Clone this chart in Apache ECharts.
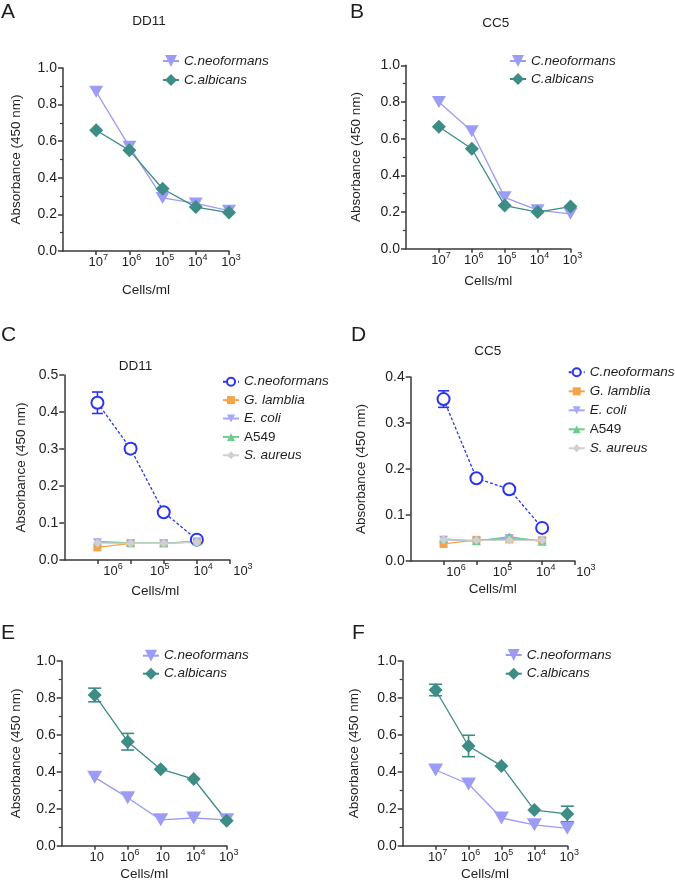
<!DOCTYPE html>
<html><head><meta charset="utf-8">
<script src="https://cdn.jsdelivr.net/npm/echarts@6/dist/echarts.min.js"></script>
<style>html,body{margin:0;padding:0;background:#fff}#c{width:675px;height:886px}</style>
</head><body><div id="c"></div>
<script>
// ---------- data ----------
const cellLabels  = ['10^7', '10^6', '10^5', '10^4', '10^3'];
const cellLabelsCD = ['10^6', '10^5', '10^4', '10^3'];
const cellLabelsE = ['10', '10^6', '10', '10^4', '10^3'];
const steps5 = [1, 2, 3, 4, 5];
const steps4 = [1, 2, 3, 4];

const A_neo = [0.87, 0.57, 0.29, 0.26, 0.22];
const A_alb = [0.66, 0.55, 0.34, 0.24, 0.21];
const B_neo = [0.80, 0.64, 0.28, 0.21, 0.19];
const B_alb = [0.665, 0.545, 0.235, 0.20, 0.23];

const C_neo = [0.425, 0.301, 0.129, 0.055];
const C_neoErr = [0.029, 0.012, 0, 0];
const C_lam = [0.034, 0.045, 0.045, 0.049];
const C_coli = [0.048, 0.045, 0.045, 0.050];
const C_a549 = [0.050, 0.046, 0.045, 0.051];
const C_aur = [0.046, 0.045, 0.045, 0.048];

const D_neo = [0.352, 0.180, 0.156, 0.072];
const D_neoErr = [0.018, 0, 0, 0];
const D_lam = [0.037, 0.046, 0.047, 0.045];
const D_coli = [0.046, 0.044, 0.050, 0.044];
const D_a549 = [0.048, 0.043, 0.053, 0.042];
const D_aur = [0.046, 0.045, 0.045, 0.045];

const E_neo = [0.37, 0.26, 0.14, 0.15, 0.14];
const E_alb = [0.816, 0.563, 0.414, 0.361, 0.135];
const E_albErr = [0.037, 0.045, 0, 0, 0];
const F_neo = [0.41, 0.334, 0.15, 0.113, 0.094];
const F_alb = [0.843, 0.54, 0.432, 0.193, 0.172];
const F_albErr = [0.031, 0.058, 0, 0, 0.042];

// ---------- styling helpers ----------
const FONT = '"Liberation Sans", Arial, Helvetica, sans-serif';
const AX = '#3a3a3a';
const TXT = '#1e1e1e';
const TRI_DOWN = 'path://M0,0L10,0L5,9Z';
const COL_NEO = '#9c9cf6', COL_ALB = '#3d8c85';

function sup(s) {
  const p = s.split('^');
  return p.length > 1 ? '{b|' + p[0] + '}{s|' + p[1] + '}' : '{b|' + p[0] + '}';
}
const richX = {
  b: { fontSize: 13, color: TXT, fontFamily: FONT, lineHeight: 18 },
  s: { fontSize: 9, color: TXT, fontFamily: FONT, lineHeight: 10, verticalAlign: 'top' }
};
function yAxisFor(grid, max, interval, gap, minor) {
  return {
    type: 'value', gridIndex: grid, min: 0, max: max, interval: interval,
    name: 'Absorbance (450 nm)', nameLocation: 'middle', nameGap: gap,
    nameTextStyle: { fontSize: 13.5, color: TXT, fontFamily: FONT },
    axisLine: { show: true, lineStyle: { color: AX, width: 1.5 } },
    axisTick: { show: true, length: 5, lineStyle: { color: AX, width: 1.5 } },
    minorTick: { show: minor, splitNumber: 2, length: 3, lineStyle: { color: AX, width: 1.2 } },
    splitLine: { show: false }, minorSplitLine: { show: false },
    axisLabel: { fontSize: 14, color: TXT, fontFamily: FONT, margin: 6, formatter: v => v.toFixed(1) }
  };
}
function xAxisFor(grid, labels, nameGap, namePad) {
  return {
    type: 'value', gridIndex: grid, min: 0, max: 5,
    name: 'Cells/ml', nameLocation: 'middle', nameGap: nameGap,
    nameTextStyle: { fontSize: 13.5, color: TXT, fontFamily: FONT, padding: namePad || 0 },
    axisLine: { show: true, onZero: false, lineStyle: { color: AX, width: 1.5 } },
    axisTick: { show: true, length: 4, customValues: [1, 2, 3, 4, 5], lineStyle: { color: AX, width: 1.5 } },
    splitLine: { show: false },
    axisLabel: labels ? {
      show: true, customValues: [1, 2, 3, 4, 5], margin: 2.5, padding: [0, 0, 0, 4],
      formatter: v => sup(labels[Math.round(v) - 1] || ''), rich: richX
    } : { show: false }
  };
}
function labelAxisFor(grid, labels, vals) {
  return {
    type: 'value', gridIndex: grid, min: 0, max: 6,
    axisLine: { show: false }, axisTick: { show: false }, splitLine: { show: false },
    axisLabel: {
      show: true, customValues: vals, margin: 2.5,
      formatter: v => {
        let k = 0, d = 1e9;
        vals.forEach((u, i) => { if (Math.abs(u - v) < d) { d = Math.abs(u - v); k = i; } });
        return sup(labels[k]);
      }, rich: richX
    }
  };
}
function hiddenY(grid) {
  return { type: 'value', gridIndex: grid, min: 0, max: 1, show: false };
}
function pts(xs, ys) { return xs.map((x, i) => [x, ys[i]]); }
function lineSeries(name, ax, xs, ys, color, symbol, size, extra) {
  return Object.assign({
    type: 'line', name: name, xAxisIndex: ax, yAxisIndex: ax, data: pts(xs, ys),
    symbol: symbol, symbolSize: size, color: color, z: 3,
    lineStyle: { color: color, width: 1.3 }, itemStyle: { color: color },
    emphasis: { disabled: true }, animation: false
  }, extra || {});
}
function errSeries(name, ax, xs, ys, es, color, capHalf) {
  return {
    type: 'custom', name: name, xAxisIndex: ax, yAxisIndex: ax, z: 2, animation: false,
    data: xs.map((x, i) => [x, ys[i], es[i]]),
    encode: { x: 0, y: 1 },
    renderItem: function (params, api) {
      const x = api.value(0), y = api.value(1), e = api.value(2);
      if (!e) return null;
      const t = api.coord([x, y + e]), b = api.coord([x, y - e]);
      const st = { stroke: color, lineWidth: 1.6 };
      return {
        type: 'group', children: [
          { type: 'line', shape: { x1: t[0], y1: t[1], x2: b[0], y2: b[1] }, style: st },
          { type: 'line', shape: { x1: t[0] - capHalf, y1: t[1], x2: t[0] + capHalf, y2: t[1] }, style: st },
          { type: 'line', shape: { x1: b[0] - capHalf, y1: b[1], x2: b[0] + capHalf, y2: b[1] }, style: st }
        ]
      };
    }
  };
}
function legendFor(names, left, top, iw, ih, gap) {
  return {
    orient: 'vertical', left: left, top: top, itemWidth: iw, itemHeight: ih, itemGap: gap,
    padding: 0, selectedMode: false, data: names,
    formatter: n => {
      const s = n.split('|')[1];
      return s === 'A549' ? '{n|' + s + '}' : '{i|' + s + '}';
    },
    textStyle: {
      fontSize: 13.5, color: TXT, fontFamily: FONT,
      rich: {
        i: { fontSize: 13.5, color: TXT, fontFamily: FONT, fontStyle: 'italic', lineHeight: 16 },
        n: { fontSize: 13.5, color: TXT, fontFamily: FONT, lineHeight: 16 }
      }
    }
  };
}

const grids = [
  { left: 63, top: 68, width: 166, height: 183 },        // A
  { left: 406, top: 65.3, width: 164.5, height: 183.4 }, // B
  { left: 64.3, top: 375, width: 165.7, height: 185 },   // C
  { left: 410.7, top: 377, width: 164.3, height: 184 },  // D
  { left: 61.7, top: 661, width: 165, height: 184.7 },   // E
  { left: 402.7, top: 661, width: 164.6, height: 184.7 },// F
  { left: 64.3, top: 375, width: 198.8, height: 185 },   // C labels
  { left: 410.7, top: 377, width: 197.2, height: 184 }   // D labels
];

const xAxes = [
  xAxisFor(0, cellLabels, 32),
  xAxisFor(1, cellLabels, 25.5),
  xAxisFor(2, null, 24, [0, 0, 0, 16]),
  xAxisFor(3, null, 21.5),
  xAxisFor(4, cellLabelsE, 22),
  xAxisFor(5, cellLabels, 22),
  labelAxisFor(6, cellLabelsCD, [1.47, 2.88, 4.19, 5.39]),
  labelAxisFor(7, cellLabelsCD, [1.38, 2.79, 4.11, 5.33])
];
const yAxes = [
  yAxisFor(0, 1, 0.2, 40, true),
  yAxisFor(1, 1, 0.2, 43, true),
  yAxisFor(2, 0.5, 0.1, 36, false),
  yAxisFor(3, 0.4, 0.1, 42, false),
  yAxisFor(4, 1, 0.2, 38.5, true),
  yAxisFor(5, 1, 0.2, 41, true),
  hiddenY(6), hiddenY(7)
];

const neoOpts = [TRI_DOWN, [14, 12]];
const albOpts = ['diamond', 14];
const series = [
  lineSeries('A|C.neoformans', 0, steps5, A_neo, COL_NEO, ...neoOpts),
  lineSeries('A|C.albicans', 0, steps5, A_alb, COL_ALB, ...albOpts),
  lineSeries('B|C.neoformans', 1, steps5, B_neo, COL_NEO, ...neoOpts),
  lineSeries('B|C.albicans', 1, steps5, B_alb, COL_ALB, ...albOpts),

  errSeries('C|err', 2, steps4, C_neo, C_neoErr, '#2a35f0', 5.5),
  lineSeries('C|C.neoformans', 2, steps4, C_neo, '#2a35f0', 'emptyCircle', 12,
    { lineStyle: { color: '#2a35f0', width: 1.3, type: [3, 2] }, itemStyle: { color: '#2a35f0', borderWidth: 2 } }),
  lineSeries('C|G. lamblia', 2, steps4, C_lam, '#f2a54a', 'rect', 8),
  lineSeries('C|E. coli', 2, steps4, C_coli, '#a6a6fa', TRI_DOWN, [9, 8]),
  lineSeries('C|A549', 2, steps4, C_a549, '#6fcb8f', 'triangle', [9, 8]),
  lineSeries('C|S. aureus', 2, steps4, C_aur, '#d0d0d0', 'diamond', 9),

  errSeries('D|err', 3, steps4, D_neo, D_neoErr, '#2a35f0', 5.5),
  lineSeries('D|C.neoformans', 3, steps4, D_neo, '#2a35f0', 'emptyCircle', 12,
    { lineStyle: { color: '#2a35f0', width: 1.3, type: [3, 2] }, itemStyle: { color: '#2a35f0', borderWidth: 2 } }),
  lineSeries('D|G. lamblia', 3, steps4, D_lam, '#f2a54a', 'rect', 8),
  lineSeries('D|E. coli', 3, steps4, D_coli, '#a6a6fa', TRI_DOWN, [9, 8]),
  lineSeries('D|A549', 3, steps4, D_a549, '#6fcb8f', 'triangle', [9, 8]),
  lineSeries('D|S. aureus', 3, steps4, D_aur, '#d0d0d0', 'diamond', 9),

  errSeries('E|err', 4, steps5, E_alb, E_albErr, COL_ALB, 6.5),
  lineSeries('E|C.neoformans', 4, steps5, E_neo, COL_NEO, TRI_DOWN, [15, 13]),
  lineSeries('E|C.albicans', 4, steps5, E_alb, COL_ALB, 'diamond', 14),
  errSeries('F|err', 5, steps5, F_alb, F_albErr, COL_ALB, 6.5),
  lineSeries('F|C.neoformans', 5, steps5, F_neo, COL_NEO, TRI_DOWN, [15, 13]),
  lineSeries('F|C.albicans', 5, steps5, F_alb, COL_ALB, 'diamond', 14)
];

const five = p => [p + '|C.neoformans', p + '|G. lamblia', p + '|E. coli', p + '|A549', p + '|S. aureus'];
const two = p => [p + '|C.neoformans', p + '|C.albicans'];
const legends = [
  legendFor(two('A'), 162, 54, 16, 15, 5),
  legendFor(two('B'), 509, 54, 16, 15, 4),
  legendFor(five('C'), 222, 374.7, 16, 10, 4.4),
  legendFor(five('D'), 567.7, 365.3, 16, 10, 5),
  legendFor(two('E'), 142, 648.7, 16, 15, 4),
  legendFor(two('F'), 504.7, 648, 16, 15, 4.7)
];

function txt(t, x, y, size) {
  return { type: 'text', x: x, y: y, silent: true,
    style: { text: t, fontSize: size, fontFamily: FONT, fill: TXT, textAlign: size > 16 ? 'left' : 'center', textVerticalAlign: 'middle' } };
}
const graphics = [
  txt('A', 1, 12.5, 21), txt('B', 350, 12, 21), txt('C', 1, 335, 21),
  txt('D', 351, 335, 21), txt('E', 1, 633, 21), txt('F', 352, 633, 21),
  txt('DD11', 149, 21.7, 13.5), txt('CC5', 495.7, 23, 13.5),
  txt('DD11', 135.5, 366, 13.5), txt('CC5', 487.7, 351.3, 13.5)
];

const chart = echarts.init(document.getElementById('c'), null, { renderer: 'canvas' });
chart.setOption({
  backgroundColor: '#fff',
  animation: false,
  textStyle: { fontFamily: FONT },
  grid: grids, xAxis: xAxes, yAxis: yAxes,
  legend: legends, series: series, graphic: graphics
});
</script></body></html>
